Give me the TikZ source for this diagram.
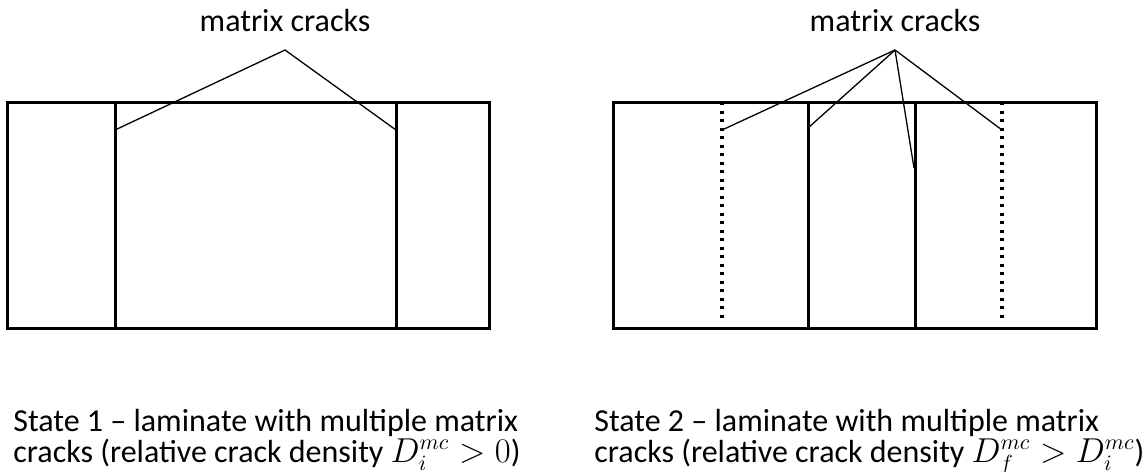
\documentclass[tikz,border=0pt]{standalone}
\usepackage{fontspec}
\setmainfont{Carlito}
\begin{document}
\begin{tikzpicture}[x=0.5pt,y=-0.5pt,
  wall/.style={line width=1.5pt},
  crack/.style={line width=1.5pt},
  oldcrack/.style={line width=1.65pt, dash pattern=on 1.65pt off 2.6pt},
  leader/.style={line width=0.65pt},
  lbl/.style={font=\fontsize{16}{15.2}\selectfont, inner sep=0pt},
  caption/.style={lbl, align=left, anchor=base west}]
\useasboundingbox (0,0) rectangle (1145,471);

% state 1
\draw[wall] (7,102) rectangle (489,328);
\foreach \x in {115,396} {
  \draw[crack] (\x,102) -- (\x,328);
}
\coordinate (apexL) at (285,50);
\node[lbl, anchor=base] (mcL) at ([yshift=9pt]apexL) {matrix cracks};
\coordinate (tipL1) at (115,130);
\coordinate (tipL2) at (396,130);
\draw[leader] (tipL1) -- (apexL) -- (tipL2);
\node[caption] (capL) at (13,462) {State 1 -- laminate with multiple matrix\\cracks (relative crack density $D_i^{mc} > 0$)};

% state 2
\draw[wall] (613,102) rectangle (1096,328);
\foreach \x in {722,1002} {
  \draw[oldcrack] (\x,102) -- (\x,322);
}
\foreach \x in {808,915} {
  \draw[crack] (\x,102) -- (\x,328);
}
\coordinate (apexR) at (895,50);
\node[lbl, anchor=base] (mcR) at ([yshift=9pt]apexR) {matrix cracks};
\coordinate (tipR1) at (722,130);
\coordinate (tipR2) at (808,128);
\coordinate (tipR3) at (914,168);
\coordinate (tipR4) at (1002,130);
\foreach \t in {tipR1,tipR2,tipR3,tipR4} {
  \draw[leader] (apexR) -- (\t);
}
\node[caption] (capR) at (594,462) {State 2 -- laminate with multiple matrix\\cracks (relative crack density $D_f^{mc} > D_i^{mc}$)};
\end{tikzpicture}
\end{document}
